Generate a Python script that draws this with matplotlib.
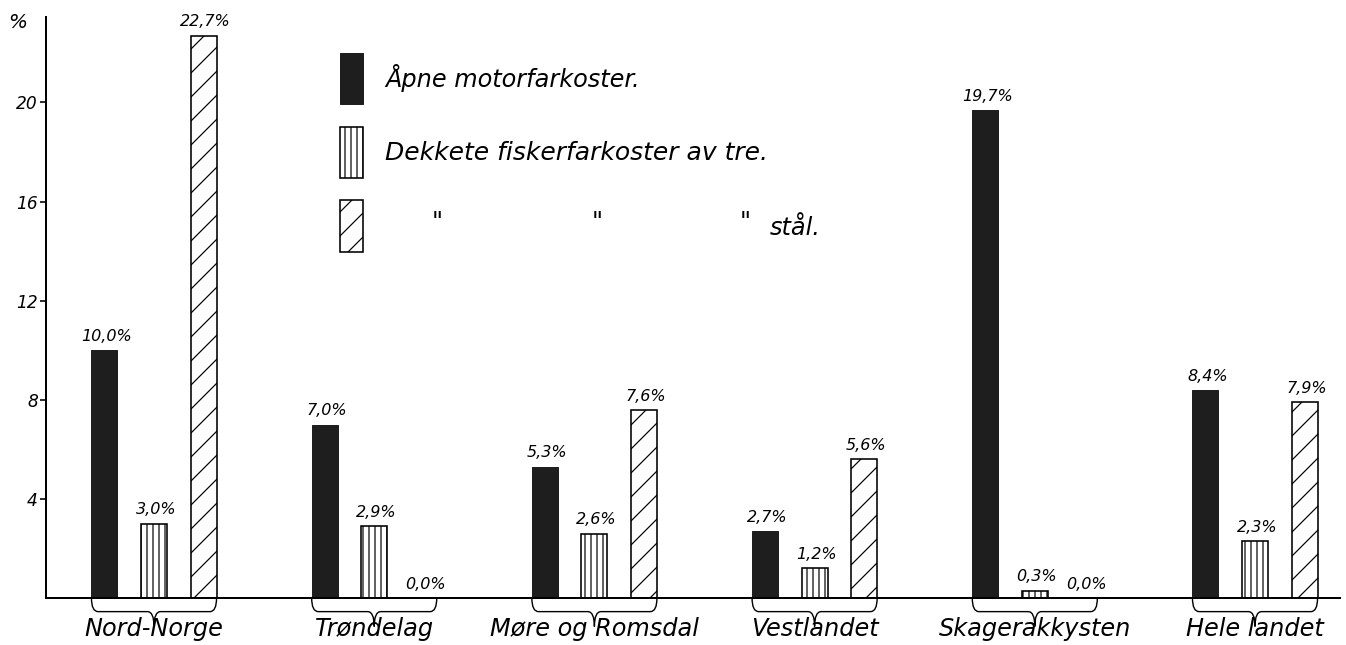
import matplotlib
matplotlib.use("Agg")
import matplotlib.pyplot as plt
from matplotlib.path import Path
from matplotlib.patches import PathPatch, Rectangle
import numpy as np

# ---- data ----
regions = ["Nord-Norge", "Trøndelag", "Møre og Romsdal", "Vestlandet", "Skagerakkysten", "Hele landet"]
open_motor = [10.0, 7.0, 5.3, 2.7, 19.7, 8.4]
decked_wood = [3.0, 2.9, 2.6, 1.2, 0.3, 2.3]
decked_steel = [22.7, 0.0, 7.6, 5.6, 0.0, 7.9]
series_names = ["Åpne motorfarkoster.", "Dekkete fiskerfarkoster av tre.", "stål."]
yticks = [4, 8, 12, 16, 20]

DPI = 144
W, H = 1346, 645
plt.rcParams['font.family'] = ['DejaVu Sans']
plt.rcParams['hatch.linewidth'] = 0.6
plt.rcParams['hatch.color'] = 'black'

fig = plt.figure(figsize=(W / DPI, H / DPI), dpi=DPI)
fig.patch.set_facecolor('white')

# axes: left x=46px, right x=1340px, bottom y=598px, top y=17px
ax = fig.add_axes([46 / W, 1 - 598 / H, (1340 - 46) / W, (598 - 17) / H])
ax.set_xlim(-0.4905, 5.386)
ax.set_ylim(0, 23.45)

x = np.arange(len(regions))
off = 0.225
bw = 0.118

styles = [
    dict(color='#1e1e1e', edgecolor='#1e1e1e', linewidth=0.5),
    dict(facecolor='white', edgecolor='black', hatch='||||', linewidth=0.8),
    dict(facecolor='white', edgecolor='black', hatch='//', linewidth=0.8),
]
all_series = [open_motor, decked_wood, decked_steel]

def fmt(v):
    return f"{v:.1f}".replace('.', ',') + '%'

for k, (vals, st) in enumerate(zip(all_series, styles)):
    pos = x + (k - 1) * off
    bars = ax.bar(pos, vals, width=bw, **st)
    for rect, v in zip(bars, vals):
        cx = rect.get_x() + rect.get_width() / 2
        ax.text(cx + 0.01, v + 0.25, fmt(v), ha='center', va='bottom',
                fontsize=8, style='italic')

# braces and region labels
y0, y1, y2 = 0.0, -0.55, -1.15
r = 0.03
for i, name in enumerate(regions):
    L = x[i] - off - bw / 2
    R = x[i] + off + bw / 2
    C = x[i]
    verts = [(L, y0), (L, y1), (L + r, y1),
             (C - r, y1), (C, y1), (C, y2),
             (C, y1), (C + r, y1),
             (R - r, y1), (R, y1), (R, y0)]
    codes = [Path.MOVETO, Path.CURVE3, Path.CURVE3,
             Path.LINETO, Path.CURVE3, Path.CURVE3,
             Path.CURVE3, Path.CURVE3,
             Path.LINETO, Path.CURVE3, Path.CURVE3]
    ax.add_patch(PathPatch(Path(verts, codes), facecolor='none', edgecolor='black',
                           linewidth=0.7, clip_on=False))
    ax.text(C, -1.25, name, ha='center', va='center', fontsize=12, style='italic')

# axes styling
for s in ['top', 'right']:
    ax.spines[s].set_visible(False)
ax.spines['left'].set_linewidth(1.0)
ax.spines['bottom'].set_linewidth(1.0)
ax.set_xticks([])
ax.set_yticks(yticks)
ax.set_yticklabels([str(t) for t in yticks], style='italic', fontsize=8.5)
ax.tick_params(axis='y', direction='out', length=3, width=0.8, pad=1)
fig.text(8 / W, 1 - 22 / H, '%', fontsize=10, style='italic', va='center', ha='left')

# legend (drawn manually)
def fx(px):
    return px / W

def fy(py):
    return 1 - py / H

leg = [(53, 104), (127, 178), (200, 252)]
for k, (top, bot) in enumerate(leg):
    st = dict(styles[k])
    rect = Rectangle((fx(340), fy(bot)), fx(363) - fx(340), fy(top) - fy(bot),
                     transform=fig.transFigure, **st)
    fig.patches.append(rect)

fig.text(fx(385), fy(78), series_names[0], fontsize=12, style='italic', va='center')
fig.text(fx(385), fy(153), series_names[1], fontsize=12.5, style='italic', va='center')
for px in [437, 597, 745]:
    fig.text(fx(px), fy(222), '"', fontsize=12, style='italic', va='center', ha='center')
fig.text(fx(770), fy(228), series_names[2], fontsize=12, style='italic', va='center')

fig.savefig('out.png', dpi=DPI, facecolor='white')
